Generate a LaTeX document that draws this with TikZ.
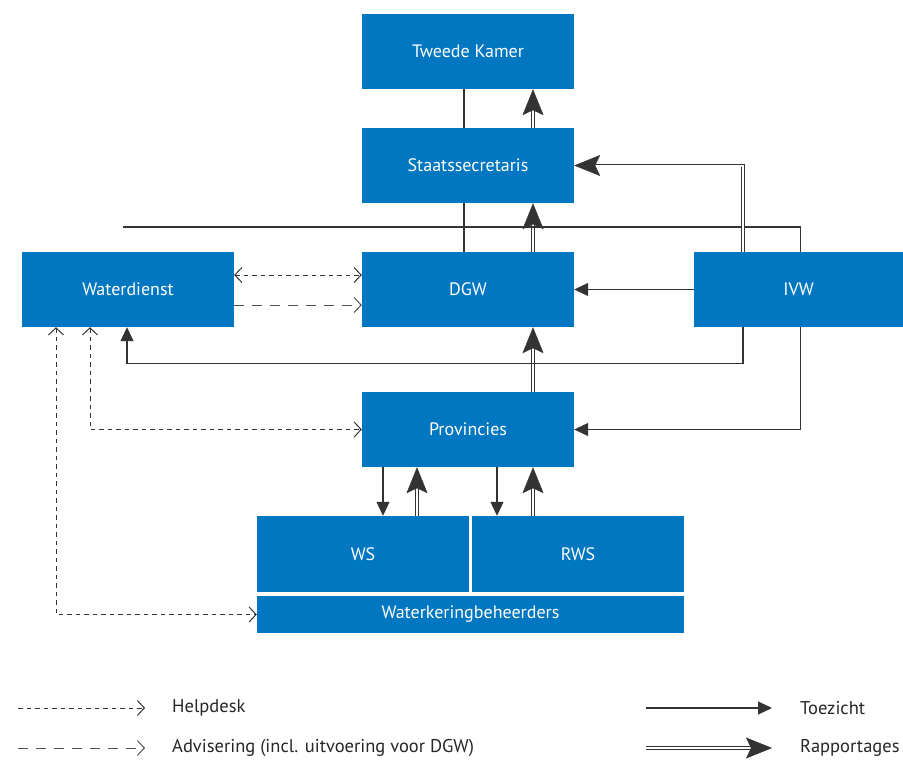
\documentclass[tikz,border=0pt]{standalone}
\usepackage{fontspec}
\setmainfont{PT Sans}
\usetikzlibrary{arrows.meta}
\definecolor{boxblue}{HTML}{0077C0}
\definecolor{linegray}{HTML}{333333}
\tikzset{
  orgbox/.style={fill=boxblue, draw=none, text=white, minimum width=212pt, minimum height=75pt, inner sep=0pt, font=\fontsize{18}{21}\selectfont},
  tz/.style={draw=linegray, line width=1.1pt},
  tzarrow/.style={tz, -{Triangle[length=14pt,width=13pt]}},
  rapportline/.style={draw=linegray, line width=0.9pt, double=white, double distance=2pt, shorten >=14pt},
  rapporthead/.style={draw=white, line width=0.05pt, -{Stealth[length=26pt,width=21pt,inset=5pt,color=linegray,line width=0.5pt]}},
  helpdesk/.style={draw=linegray, line width=1pt, dash pattern=on 4.5pt off 4pt},
  advies/.style={draw=linegray!85, line width=1pt, dash pattern=on 10pt off 8pt},
  openhead/.style={-{Straight Barb[length=7pt,width=15pt,line width=1pt]}},
  bothopen/.style={{Straight Barb[length=7pt,width=15pt,line width=1pt]}-{Straight Barb[length=7pt,width=15pt,line width=1pt]}},
  legendtext/.style={anchor=west, inner sep=0pt, font=\fontsize{18.5}{21}\selectfont, text=black!85}
}
\begin{document}
\begin{tikzpicture}[x=1pt, y=-1pt]
\useasboundingbox (0,0) rectangle (903,761);
% boxes
\node[orgbox] (tk) at (468,51.5) {Tweede Kamer};
\node[orgbox] (ss) at (468,165.5) {Staatssecretaris};
\node[orgbox] (wd) at (128,289.5) {Waterdienst};
\node[orgbox] (dgw) at (468,289.5) {DGW};
\node[orgbox, minimum width=209pt] (ivw) at (798.5,289.5) {IVW};
\node[orgbox] (prov) at (468,429.5) {Provincies};
\node[orgbox, minimum height=76pt] (ws) at (363,554) {WS};
\node[orgbox, minimum height=76pt] (rws) at (578,554) {RWS};
\node[orgbox, minimum width=427pt, minimum height=37pt] (wk) at (470.5,614.5) {Waterkeringbeheerders};

% Tweede Kamer -- Staatssecretaris
\draw[tz] ([xshift=-4pt]ss.north) -- ([xshift=-4pt]tk.south);
\draw[rapportline] ([xshift=65pt]ss.north) -- ([xshift=65pt]tk.south);
\draw[rapporthead] ([xshift=65pt]ss.north) -- ([xshift=65pt]tk.south);
% Staatssecretaris -- DGW
\draw[tz] ([xshift=-4pt]dgw.north) -- ([xshift=-4pt]ss.south);
\draw[rapportline] ([xshift=65pt]dgw.north) -- ([xshift=65pt]ss.south);
\draw[rapporthead] ([xshift=65pt]dgw.north) -- ([xshift=65pt]ss.south);
% Provincies -> DGW
\draw[rapportline] ([xshift=65pt]prov.north) -- ([xshift=65pt]dgw.south);
\draw[rapporthead] ([xshift=65pt]prov.north) -- ([xshift=65pt]dgw.south);

% IVW connections
\coordinate (tzend) at (123,227);
\draw[tz] ([xshift=2pt]ivw.north) |- (tzend);
\draw[rapportline] ([xshift=-55.5pt]ivw.north) |- (ss.east);
\draw[rapporthead] ([xshift=-55.5pt]ivw.north) |- (ss.east);
\draw[tzarrow] (ivw.west) -- (dgw.east);
\draw[tzarrow] ([xshift=-55.5pt]ivw.south) -- ++(0,36) -| ([xshift=-1pt]wd.south);
\draw[tzarrow] ([xshift=2pt]ivw.south) |- (prov.east);

% Waterdienst <-> DGW
\draw[helpdesk, bothopen] ([yshift=14.5pt]wd.east) -- ([yshift=14.5pt]dgw.west);
\draw[advies, openhead] ([yshift=-15.5pt]wd.east) -- ([yshift=-15.5pt]dgw.west);
% Waterdienst helpdesk lines
\draw[helpdesk, bothopen] ([xshift=-38pt]wd.south) |- (prov.west);
\draw[helpdesk, bothopen] ([xshift=-72pt]wd.south) |- (wk.west);

% Provincies <-> WS / RWS
\draw[tzarrow] ([xshift=-85pt]prov.south) -- ([xshift=20pt]ws.north);
\draw[rapportline] ([xshift=54pt]ws.north) -- ([xshift=-51pt]prov.south);
\draw[rapporthead] ([xshift=54pt]ws.north) -- ([xshift=-51pt]prov.south);
\draw[tzarrow] ([xshift=29pt]prov.south) -- ([xshift=-81pt]rws.north);
\draw[rapportline] ([xshift=-45pt]rws.north) -- ([xshift=65pt]prov.south);
\draw[rapporthead] ([xshift=-45pt]rws.north) -- ([xshift=65pt]prov.south);

% legend
\coordinate (l1a) at (18,708);  \coordinate (l1b) at (145,708);
\coordinate (l2a) at (18,748);  \coordinate (l2b) at (145,748);
\coordinate (l3a) at (646,708); \coordinate (l3b) at (772,708);
\coordinate (l4a) at (646,748); \coordinate (l4b) at (772,748);
\draw[helpdesk, openhead] (l1a) -- (l1b);
\draw[advies, openhead] (l2a) -- (l2b);
\draw[tzarrow] (l3a) -- (l3b);
\draw[rapportline] (l4a) -- (l4b);
\draw[rapporthead] (l4a) -- (l4b);
\node[legendtext] (lt1) at (172,708) {Helpdesk};
\node[legendtext] (lt2) at (172,748) {Advisering (incl. uitvoering voor DGW)};
\node[legendtext] (lt3) at (800,708) {Toezicht};
\node[legendtext] (lt4) at (800,748) {Rapportages};
\end{tikzpicture}
\end{document}
